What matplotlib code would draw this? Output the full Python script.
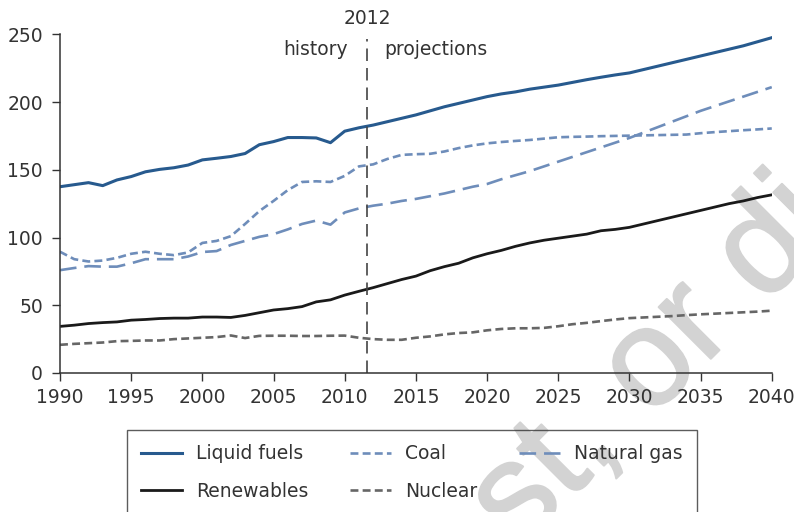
import matplotlib
matplotlib.use("Agg")
import matplotlib.pyplot as plt
import matplotlib.patheffects as pe

plt.rcParams['font.family'] = ['DejaVu Sans']

years = list(range(1990, 2041))

liquid_fuels = [137.5, 139, 140.5, 138.3, 142.5, 145, 148.5, 150.3, 151.5, 153.5,
                157.3, 158.5, 159.8, 162, 168.5, 170.8, 173.8, 173.8, 173.5, 170,
                178.5, 181, 183, 185.5, 188, 190.5, 193.5, 196.5, 199, 201.5,
                204, 206, 207.5, 209.5, 211, 212.5, 214.5, 216.5, 218.3, 220,
                221.5, 224, 226.5, 229, 231.5, 234, 236.5, 239, 241.5, 244.5, 247.5]
coal = [89.5, 84, 82.3, 83, 85, 88, 89.5, 88, 87, 89,
        96, 97.5, 101, 110, 119.5, 127, 135, 141, 141.5, 141,
        145.5, 152.5, 154, 158, 161, 161.5, 161.8, 163.5, 166, 168,
        169.5, 170.5, 171.3, 172, 173, 174, 174.3, 174.5, 174.8, 175,
        175.2, 175.4, 175.6, 175.8, 176, 177, 177.8, 178.5, 179.2, 179.8, 180.5]
natural_gas = [75.9, 77.5, 78.9, 78.5, 78.5, 81, 84, 84, 84, 86,
               89.3, 90, 94.5, 97.5, 100.5, 102.5, 106, 110, 112.5, 109.5,
               118.5, 121.5, 123.5, 125, 127, 128.5, 130.5, 132.5, 135, 137.5,
               139.5, 143, 146, 149, 152.5, 156, 159.5, 163, 166.5, 170,
               173.5, 177.5, 181.5, 185.5, 189.5, 193.5, 197, 200.5, 204, 207.5, 211]
renewables = [34.4, 35.3, 36.5, 37.2, 37.7, 39, 39.5, 40.2, 40.5, 40.5,
              41.3, 41.3, 41, 42.5, 44.5, 46.5, 47.5, 49, 52.5, 54,
              57.5, 60.3, 63, 66, 69, 71.5, 75.5, 78.5, 81, 85,
              88, 90.5, 93.5, 96, 98, 99.5, 101, 102.5, 105, 106,
              107.5, 110, 112.5, 115, 117.5, 120, 122.5, 125, 127, 129.5, 131.5]
nuclear = [20.8, 21.5, 22, 22.5, 23.5, 23.7, 24, 24, 25, 25.5,
           26, 26.5, 27.7, 25.8, 27.4, 27.5, 27.5, 27.3, 27.3, 27.5,
           27.6, 26, 25, 24.5, 24.5, 26, 27, 28.5, 29.5, 30,
           31.5, 32.5, 33, 33, 33.3, 34.5, 36, 37, 38.3, 39.5,
           40.5, 41, 41.5, 42, 42.7, 43.3, 43.8, 44.3, 44.8, 45.3, 46]

split_year = 2011.6
split_label = "2012"
x_ticks = [1990, 1995, 2000, 2005, 2010, 2015, 2020, 2025, 2030, 2035, 2040]
y_ticks = [0, 50, 100, 150, 200, 250]

blue = '#275a8e'
light_blue = '#6e8dba'
text_col = '#333333'
fs = 13.5

fig = plt.figure(figsize=(7.94, 5.12), dpi=100)
ax = fig.add_axes([0.0756, 0.2715, 0.8964, 0.6615])
ax.set_facecolor('none')

# watermark, behind everything
wm_col = '#d3d3d3'
fig.text(0.63, -0.112, "Do not copy, post, or distribute", fontsize=100,
         family=['Liberation Sans', 'DejaVu Sans'], color=wm_col,
         rotation=45, rotation_mode='anchor', ha='center', va='baseline', zorder=-5,
         path_effects=[pe.withStroke(linewidth=1.5, foreground=wm_col)])

l1, = ax.plot(years, liquid_fuels, color=blue, lw=2.2, label='Liquid fuels')
l2, = ax.plot(years, coal, color=light_blue, lw=1.9, dashes=(3.0, 1.6), label='Coal')
l3, = ax.plot(years, natural_gas, color=light_blue, lw=1.9, dashes=(6.3, 3.0), label='Natural gas')
l4, = ax.plot(years, renewables, color='#1a1a1a', lw=2.0, label='Renewables')
l5, = ax.plot(years, nuclear, color='#666666', lw=1.9, dashes=(3.0, 1.6), label='Nuclear')

ax.axvline(split_year, color='#444444', lw=1.2, dashes=(7.5, 4.2), ymax=0.985)
ax.text(split_year, 262, split_label, ha='center', va='center', fontsize=fs, color=text_col)
ax.text(split_year - 1.4, 238.5, "history", ha='right', va='center', fontsize=fs, color=text_col)
ax.text(split_year + 1.2, 238.5, "projections", ha='left', va='center', fontsize=fs, color=text_col)

ax.set_xlim(1990, 2040)
ax.set_ylim(0, 250)
ax.set_xticks(x_ticks)
ax.set_yticks(y_ticks)
for s in ['top', 'right']:
    ax.spines[s].set_visible(False)
for s in ['left', 'bottom']:
    ax.spines[s].set_color('#333333')
    ax.spines[s].set_linewidth(1.1)
ax.tick_params(direction='out', length=5.8, width=1, colors='#333333',
               labelsize=fs, labelcolor=text_col)
ax.tick_params(axis='x', pad=5)
ax.tick_params(axis='y', pad=6.5)

leg = fig.legend([l1, l4, l2, l5, l3],
                 ['Liquid fuels', 'Renewables', 'Coal', 'Nuclear', 'Natural gas'],
                 ncol=3, loc='upper left', bbox_to_anchor=(0.16, 0.16),
                 borderaxespad=0, fontsize=fs, frameon=True, fancybox=False,
                 edgecolor='#333333', facecolor='none', handlelength=2.2,
                 handletextpad=0.75, columnspacing=2.2, labelspacing=1.0,
                 borderpad=0.75, labelcolor=text_col)
leg.get_frame().set_linewidth(1.0)

fig.savefig('out.png', dpi=100)
